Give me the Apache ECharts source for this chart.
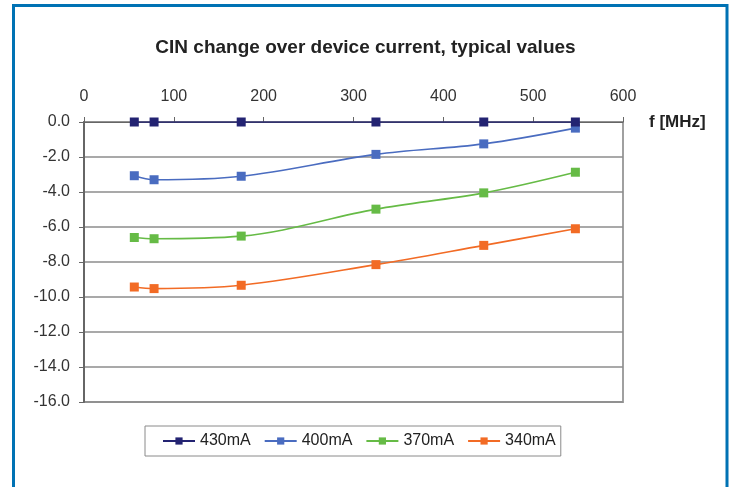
<!DOCTYPE html>
<html>
<head>
<meta charset="utf-8">
<script src="https://cdn.jsdelivr.net/npm/echarts@6/dist/echarts.min.js"></script>
<style>
html,body{margin:0;padding:0;background:#fff;}
#c{width:731px;height:487px;}
</style>
</head>
<body>
<div id="c"></div>
<script>
const freq = [56, 78, 175, 325, 445, 547];
const s430 = [0, 0, 0, 0, 0, 0];
const s400 = [-3.07, -3.3, -3.1, -1.85, -1.25, -0.35];
const s370 = [-6.6, -6.67, -6.52, -4.98, -4.05, -2.87];
const s340 = [-9.43, -9.52, -9.33, -8.15, -7.05, -6.1];
const seriesNames = ['430mA', '400mA', '370mA', '340mA'];
const seriesData = [s430, s400, s370, s340];
const colors = ['#232372', '#4a6cc0', '#66bb46', '#f26b25'];

const chart = echarts.init(document.getElementById('c'));
const font = 'Liberation Sans, Arial, sans-serif';
chart.setOption({
  animation: false,
  backgroundColor: '#fff',
  title: {
    text: 'CIN change over device current, typical values',
    left: 'center', top: 33,
    textStyle: {fontFamily: font, fontSize: 19, fontWeight: 'bold', color: '#222'}
  },
  grid: {
    left: 84, right: 108, top: 122, bottom: 85,
    show: true, borderColor: '#a0a0a0', borderWidth: 2, backgroundColor: 'transparent'
  },
  legend: {
    left: 145, top: 426,
    padding: [7, 5, 7, 17],
    itemGap: 13, itemWidth: 32, itemHeight: 9,
    borderColor: '#8a8a8a', borderWidth: 1,
    textStyle: {fontFamily: font, fontSize: 16, color: '#222'},
    data: seriesNames
  },
  xAxis: {
    type: 'value', position: 'top', min: 0, max: 600, interval: 100,
    name: 'f [MHz]', nameLocation: 'end', nameGap: 26,
    nameTextStyle: {fontFamily: font, fontSize: 17, fontWeight: 'bold', color: '#222', verticalAlign: 'middle'},
    axisLine: {show: true, lineStyle: {color: '#666', width: 1}},
    axisTick: {show: true, length: 5, lineStyle: {color: '#666'}},
    axisLabel: {fontFamily: font, fontSize: 16, color: '#333', margin: 17},
    splitLine: {show: false}
  },
  yAxis: {
    type: 'value', min: -16, max: 0, interval: 2,
    axisLine: {show: true, lineStyle: {color: '#666', width: 2}},
    axisTick: {show: true, length: 5, lineStyle: {color: '#666'}},
    axisLabel: {fontFamily: font, fontSize: 16, color: '#333', margin: 14,
      formatter: v => v.toFixed(1)},
    splitLine: {show: true, lineStyle: {color: '#8c8c8c', width: 1.5}}
  },
  graphic: [{
    type: 'polyline', silent: true,
    shape: {points: [[13.5, 500], [13.5, 5.5], [727, 5.5], [727, 500]]},
    style: {stroke: '#0072b4', lineWidth: 3, fill: null}
  }],
  series: seriesNames.map((n, i) => ({
    name: n, type: 'line',
    data: freq.map((f, j) => [f, seriesData[i][j]]),
    smooth: i === 0 ? false : 0.35,
    symbol: 'rect', symbolSize: 9,
    lineStyle: {color: colors[i], width: 1.6},
    itemStyle: {color: colors[i]},
    z: 10 - i
  }))
});
</script>
</body>
</html>
